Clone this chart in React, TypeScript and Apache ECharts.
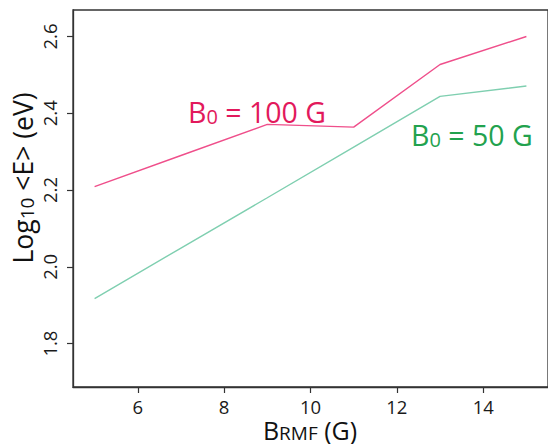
import React, { useEffect, useRef } from "react";
import * as echarts from "echarts";

const bRmf = [5, 7, 9, 11, 13, 15];
const energyB100 = [2.209, 2.29, 2.371, 2.364, 2.527, 2.6];
const energyB50 = [1.917, 2.049, 2.18, 2.312, 2.444, 2.471];
const xTicks = [6, 8, 10, 12, 14];
const yTicks = [1.8, 2.0, 2.2, 2.4, 2.6];

const PINK_LINE = "#ef4f8b";
const PINK_TEXT = "#e2195c";
const GREEN_LINE = "#7fcfb0";
const GREEN_TEXT = "#22a24e";
const FONT = "'Open Sans', 'DejaVu Sans', sans-serif";

export default function App() {
  const ref = useRef<HTMLDivElement>(null);
  useEffect(() => {
    if (!ref.current) return;
    const chart = echarts.init(ref.current, null, { renderer: "svg" });
    const option: any = {
      animation: false,
      backgroundColor: "#ffffff",
      textStyle: { fontFamily: FONT },
      grid: {
        left: 73,
        top: 10,
        bottom: 57,
        right: -10,
        show: true,
        borderColor: "#333",
        borderWidth: 1.3,
        backgroundColor: "transparent",
      },
      xAxis: {
        type: "value",
        min: 4.5,
        max: 15.5,
        splitLine: { show: false },
        axisLine: { show: true, lineStyle: { color: "#333", width: 1.3 } },
        axisTick: {
          show: true,
          length: 6,
          customValues: xTicks,
          lineStyle: { color: "#333", width: 1.2 },
        },
        axisLabel: {
          customValues: xTicks,
          margin: 10,
          fontSize: 18.5,
          color: "#1a1a1a",
          fontFamily: FONT,
        },
      },
      yAxis: {
        type: "value",
        min: 1.687,
        max: 2.669,
        splitLine: { show: false },
        axisLine: { show: true, lineStyle: { color: "#333", width: 1.3 } },
        axisTick: {
          show: true,
          length: 6,
          customValues: yTicks,
          lineStyle: { color: "#333", width: 1.2 },
        },
        axisLabel: {
          customValues: yTicks,
          rotate: 90,
          margin: 14,
          fontSize: 18.5,
          color: "#1a1a1a",
          fontFamily: FONT,
          formatter: (v: number) => v.toFixed(1),
        },
      },
      series: [
        {
          name: "B0 = 100 G",
          type: "line",
          symbol: "none",
          data: bRmf.map((x, i) => [x, energyB100[i]]),
          lineStyle: { color: PINK_LINE, width: 1.4 },
          itemStyle: { color: PINK_LINE },
        },
        {
          name: "B0 = 50 G",
          type: "line",
          symbol: "none",
          data: bRmf.map((x, i) => [x, energyB50[i]]),
          lineStyle: { color: GREEN_LINE, width: 1.4 },
          itemStyle: { color: GREEN_LINE },
        },
      ],
      graphic: [
        {
          type: "text",
          left: 222,
          top: -38,
          silent: true,
          style: {
            text: "Average Energy",
            font: `32px ${FONT}`,
            fill: "#1a1a1a",
          },
        },
        {
          type: "text",
          x: 188,
          y: 126,
          silent: true,
          style: {
            text: "{b|B}{s|0}{b| = 100 G}",
            align: "left",
            verticalAlign: "bottom",
            rich: {
              b: { fontSize: 28.5, fontFamily: FONT, fill: PINK_TEXT, color: PINK_TEXT, lineHeight: 30, verticalAlign: "bottom" },
              s: { fontSize: 20, fontFamily: FONT, fill: PINK_TEXT, color: PINK_TEXT, lineHeight: 30, verticalAlign: "bottom" },
            },
          },
        },
        {
          type: "text",
          x: 411,
          y: 149,
          silent: true,
          style: {
            text: "{b|B}{s|0}{b| = 50 G}",
            align: "left",
            verticalAlign: "bottom",
            rich: {
              b: { fontSize: 28.5, fontFamily: FONT, fill: GREEN_TEXT, color: GREEN_TEXT, lineHeight: 30, verticalAlign: "bottom" },
              s: { fontSize: 20, fontFamily: FONT, fill: GREEN_TEXT, color: GREEN_TEXT, lineHeight: 30, verticalAlign: "bottom" },
            },
          },
        },
        {
          type: "text",
          x: 21,
          y: 178,
          rotation: Math.PI / 2,
          silent: true,
          style: {
            text: "{b|Log}{s|10}{b| <E> (eV)}",
            align: "center",
            verticalAlign: "middle",
            rich: {
              b: { fontSize: 26.5, fontFamily: FONT, fill: "#111", color: "#111", lineHeight: 30, verticalAlign: "bottom" },
              s: { fontSize: 19, fontFamily: FONT, fill: "#111", color: "#111", lineHeight: 30, verticalAlign: "bottom" },
            },
          },
        },
        {
          type: "text",
          x: 310,
          y: 430,
          silent: true,
          style: {
            text: "{b|B}{s|RMF}{b| (G)}",
            align: "center",
            verticalAlign: "middle",
            rich: {
              b: { fontSize: 25, fontFamily: FONT, fill: "#111", color: "#111", lineHeight: 24, verticalAlign: "bottom" },
              s: { fontSize: 19, fontFamily: FONT, fill: "#111", color: "#111", lineHeight: 24, verticalAlign: "bottom" },
            },
          },
        },
      ],
    };
    chart.setOption(option);
    return () => chart.dispose();
  }, []);
  return (
    <div
      ref={ref}
      style={{ position: "fixed", left: 0, top: 0, width: 548, height: 444, overflow: "hidden" }}
    />
  );
}
